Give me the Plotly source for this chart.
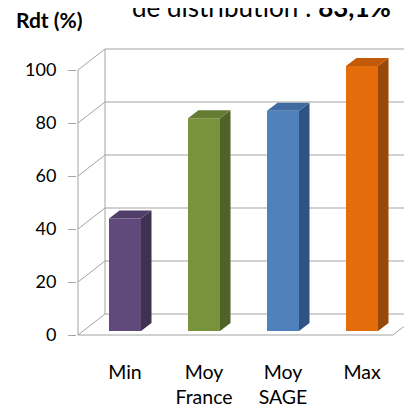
import plotly.graph_objects as go

# ---- data ----
categories = ["Min", "Moy<br>France", "Moy<br>SAGE", "Max"]
values = [42.5, 80.3, 83.1, 100]
front_colors = ["#604A7B", "#77933C", "#4F81BD", "#E46C0A"]
side_colors = ["#3F3151", "#4F6228", "#2F5382", "#984807"]
top_colors = ["#4F3E68", "#637C31", "#3F6BA0", "#C25A08"]
y_ticks = [0, 20, 40, 60, 80, 100]

# ---- geometry ----
OFF = 8  # page body margin offset
W, H = 412, 405
ML = 77 - OFF
PLOT_BOTTOM = 358 - OFF
MB = H - PLOT_BOTTOM
px_per_x = 79.0
px_per_y = 2.65
x0_px = 125.0 - OFF  # pixel of category 0
y0_px = 335.0 - OFF  # pixel of value 0
x_range = [(ML - x0_px) / px_per_x, (W - x0_px) / px_per_x]
y_range = [(y0_px - PLOT_BOTTOM) / px_per_y, y0_px / px_per_y]

xa = (78 - OFF - x0_px) / px_per_x     # front axis x
DX = 27 / px_per_x                     # full depth offset
DY = 21 / px_per_y
x_floor_end = (393 - OFF - x0_px) / px_per_x
bar_w = 32 / px_per_x
bar_base = 4 / px_per_y
sdx = 10.5 / px_per_x
sdy = 8 / px_per_y

grid_col = "#A3A3A3"
fig = go.Figure()

# frame lines
fx, fy = [], []
for v in y_ticks:
    fx += [xa, xa + DX, x_floor_end + DX + 1, None]
    fy += [v, v + DY, v + DY, None]
fx += [xa, xa, None, xa + DX, xa + DX, None, xa, x_floor_end, x_floor_end + DX, None]
fy += [0, 100, None, DY, 100 + DY, None, 0, 0, DY, None]
fig.add_trace(go.Scatter(x=fx, y=fy, mode="lines",
                         line=dict(color=grid_col, width=1),
                         hoverinfo="skip", showlegend=False))

# bars
for i, v in enumerate(values):
    top = bar_base + v
    l, r = i - bar_w / 2, i + bar_w / 2
    fig.add_trace(go.Scatter(x=[l, r, r, l, l], y=[bar_base, bar_base, top, top, bar_base],
                             fill="toself", fillcolor=front_colors[i], mode="lines",
                             line=dict(width=0), hoverinfo="skip", showlegend=False))
    fig.add_trace(go.Scatter(x=[r, r + sdx, r + sdx, r, r],
                             y=[bar_base, bar_base + sdy, top + sdy, top, bar_base],
                             fill="toself", fillcolor=side_colors[i], mode="lines",
                             line=dict(width=0), hoverinfo="skip", showlegend=False))
    fig.add_trace(go.Scatter(x=[l, r, r + sdx, l + sdx, l],
                             y=[top, top, top + sdy, top + sdy, top],
                             fill="toself", fillcolor=top_colors[i], mode="lines",
                             line=dict(width=0), hoverinfo="skip", showlegend=False))

font_family = "Lato, 'Open Sans', sans-serif"
PH = PLOT_BOTTOM
PW = W - ML
fig.update_layout(
    width=W, height=H,
    margin=dict(l=ML, r=0, t=0, b=MB),
    paper_bgcolor="white", plot_bgcolor="white",
    font=dict(family=font_family, size=18, color="#000000"),
    xaxis=dict(range=x_range, tickmode="array", tickvals=list(range(len(categories))),
               ticktext=categories, showgrid=False, zeroline=False, showline=False,
               ticks="", tickfont=dict(size=19.5), fixedrange=True, automargin=False),
    yaxis=dict(range=y_range, tickmode="array", tickvals=y_ticks,
               ticktext=[str(t) for t in y_ticks],
               showgrid=False, zeroline=False, showline=False,
               ticks="outside", ticklen=8, tickcolor=grid_col, tickwidth=1,
               ticklabelstandoff=8, tickfont=dict(size=18), fixedrange=True,
               automargin=False),
    annotations=[
        dict(text="<b>Rdt (%)</b>", xref="paper", yref="paper",
             x=(49 - OFF - ML) / PW, y=(PH - (20 - OFF)) / PH,
             xanchor="center", yanchor="middle", showarrow=False,
             font=dict(size=21)),
        dict(text="de distribution : <b>83,1%</b>", xref="paper", yref="paper",
             x=(261 - OFF - ML) / PW, y=(PH - (25 - OFF)) / PH,
             xanchor="center", yanchor="bottom", showarrow=False,
             font=dict(size=26)),
    ],
)

fig.write_html("out.html")
